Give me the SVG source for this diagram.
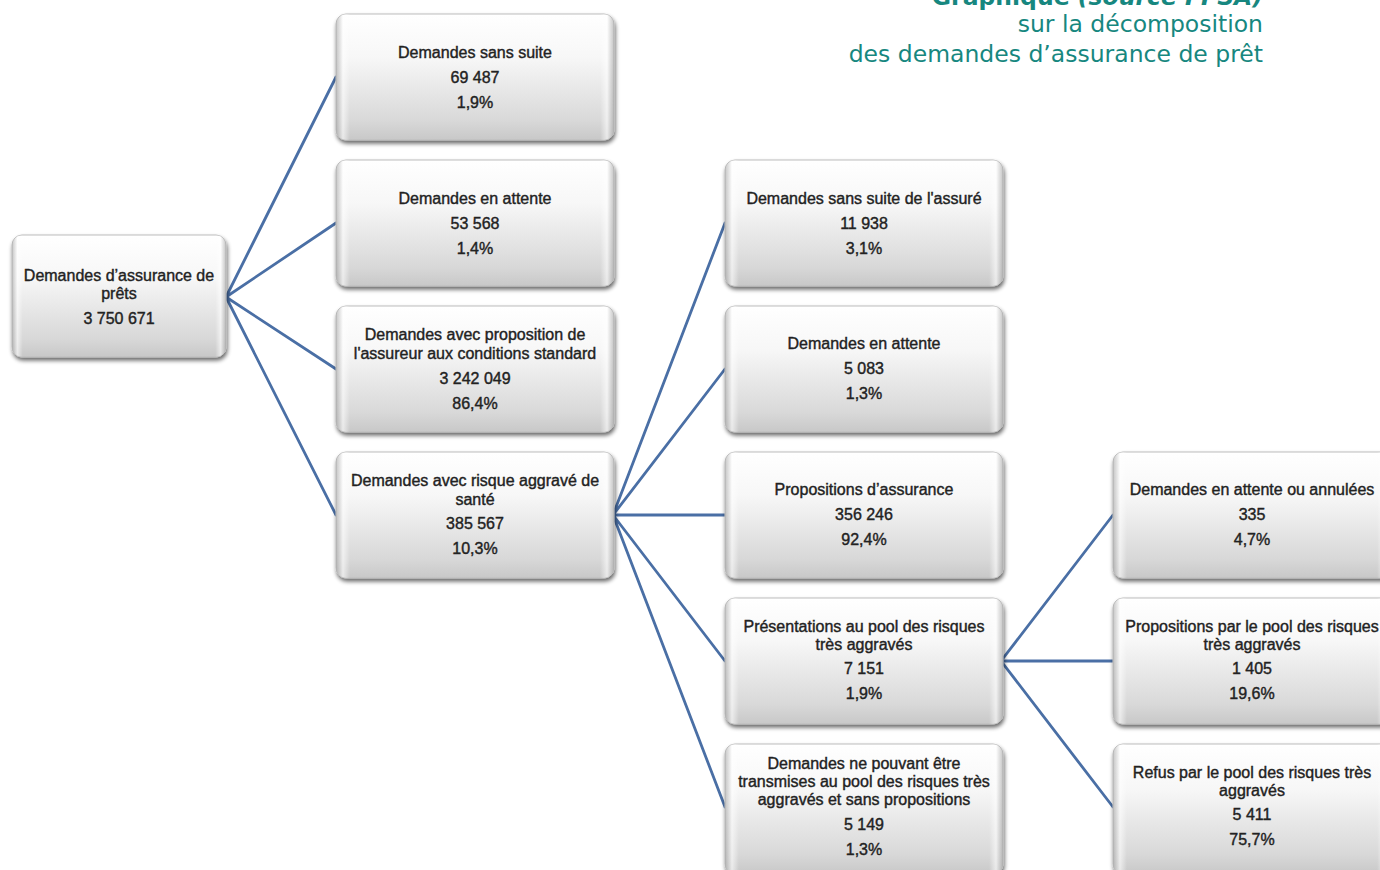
<svg xmlns="http://www.w3.org/2000/svg" width="1380" height="870" viewBox="0 0 1380 870">
<defs>
<style>
.t{font-family:"Liberation Sans",Arial,sans-serif;font-size:16px;fill:#222;stroke:#222;stroke-width:0.4;text-anchor:middle}
.ttl{font-family:"DejaVu Sans",Verdana,sans-serif;font-size:23.5px;fill:#17877f;text-anchor:end}
.box{fill:url(#gv);stroke:#bdbdbd;stroke-width:1;filter:url(#sh)}
.rim{fill:url(#gh);stroke:none}
.con{stroke:#4a6fa5;stroke-width:2.8;fill:none;stroke-linecap:round}
</style>
<linearGradient id="gv" x1="0" y1="0" x2="0" y2="1">
<stop offset="0" stop-color="#ffffff"/>
<stop offset="0.35" stop-color="#f7f7f7"/>
<stop offset="0.85" stop-color="#d8d8d8"/>
<stop offset="1" stop-color="#c8c8c8"/>
</linearGradient>
<linearGradient id="gh" x1="0" y1="0" x2="1" y2="0">
<stop offset="0" stop-color="#9a9a9a" stop-opacity="0.55"/>
<stop offset="0.025" stop-color="#ffffff" stop-opacity="0.6"/>
<stop offset="0.05" stop-color="#ffffff" stop-opacity="0"/>
<stop offset="0.95" stop-color="#ffffff" stop-opacity="0"/>
<stop offset="0.975" stop-color="#ffffff" stop-opacity="0.6"/>
<stop offset="1" stop-color="#9a9a9a" stop-opacity="0.55"/>
</linearGradient>
<filter id="sh" x="-5%" y="-10%" width="112%" height="125%">
<feGaussianBlur in="SourceAlpha" stdDeviation="2.2"/>
<feOffset dx="1" dy="3" result="o"/>
<feComponentTransfer><feFuncA type="linear" slope="0.6"/></feComponentTransfer>
<feMerge><feMergeNode/><feMergeNode in="SourceGraphic"/></feMerge>
</filter>
</defs>
<rect width="1380" height="870" fill="#ffffff"/>

<g id="title">
<text class="ttl" x="1263" y="5" font-weight="bold">Graphique <tspan font-style="italic">(source FFSA)</tspan></text>
<text class="ttl" x="1263" y="32">sur la décomposition</text>
<text class="ttl" x="1263" y="62">des demandes d’assurance de prêt</text>
</g>

<g id="connectors">
<path class="con" d="M226,297 L336,77 M226,297 L336,223 M226,297 L336,369 M226,297 L336,515"/>
<path class="con" d="M613,515 L725,223 M613,515 L725,369 M613,515 L725,515 M613,515 L725,661 M613,515 L725,807"/>
<path class="con" d="M1001,661 L1113,515 M1001,661 L1113,661 M1001,661 L1113,807"/>
</g>

<g id="n-root">
<rect class="box" x="12" y="235" width="214" height="122" rx="10"/>
<rect class="rim" x="12" y="235" width="214" height="122" rx="10"/>
<text class="t" x="119" y="281">Demandes d’assurance de</text>
<text class="t" x="119" y="299">prêts</text>
<text class="t" x="119" y="324">3 750 671</text>
</g>

<g id="n-sans-suite">
<rect class="box" x="336" y="14" width="278" height="126" rx="10"/>
<rect class="rim" x="336" y="14" width="278" height="126" rx="10"/>
<text class="t" x="475" y="58">Demandes sans suite</text>
<text class="t" x="475" y="83">69 487</text>
<text class="t" x="475" y="108">1,9%</text>
</g>

<g id="n-attente">
<rect class="box" x="336" y="160" width="278" height="126" rx="10"/>
<rect class="rim" x="336" y="160" width="278" height="126" rx="10"/>
<text class="t" x="475" y="204">Demandes en attente</text>
<text class="t" x="475" y="229">53 568</text>
<text class="t" x="475" y="254">1,4%</text>
</g>

<g id="n-standard">
<rect class="box" x="336" y="306" width="278" height="126" rx="10"/>
<rect class="rim" x="336" y="306" width="278" height="126" rx="10"/>
<text class="t" x="475" y="340">Demandes avec proposition  de</text>
<text class="t" x="475" y="359">l'assureur aux conditions standard</text>
<text class="t" x="475" y="384">3 242 049</text>
<text class="t" x="475" y="409">86,4%</text>
</g>

<g id="n-aggrave">
<rect class="box" x="336" y="452" width="278" height="126" rx="10"/>
<rect class="rim" x="336" y="452" width="278" height="126" rx="10"/>
<text class="t" x="475" y="486">Demandes avec risque aggravé de</text>
<text class="t" x="475" y="505">santé</text>
<text class="t" x="475" y="529">385 567</text>
<text class="t" x="475" y="554">10,3%</text>
</g>

<g id="n-sans-suite-assure">
<rect class="box" x="725" y="160" width="278" height="126" rx="10"/>
<rect class="rim" x="725" y="160" width="278" height="126" rx="10"/>
<text class="t" x="864" y="204">Demandes sans suite de l'assuré</text>
<text class="t" x="864" y="229">11 938</text>
<text class="t" x="864" y="254">3,1%</text>
</g>

<g id="n-attente-2">
<rect class="box" x="725" y="306" width="278" height="126" rx="10"/>
<rect class="rim" x="725" y="306" width="278" height="126" rx="10"/>
<text class="t" x="864" y="349">Demandes en attente</text>
<text class="t" x="864" y="374">5 083</text>
<text class="t" x="864" y="399">1,3%</text>
</g>

<g id="n-propositions">
<rect class="box" x="725" y="452" width="278" height="126" rx="10"/>
<rect class="rim" x="725" y="452" width="278" height="126" rx="10"/>
<text class="t" x="864" y="495">Propositions d’assurance</text>
<text class="t" x="864" y="520">356 246</text>
<text class="t" x="864" y="545">92,4%</text>
</g>

<g id="n-pool">
<rect class="box" x="725" y="598" width="278" height="126" rx="10"/>
<rect class="rim" x="725" y="598" width="278" height="126" rx="10"/>
<text class="t" x="864" y="632">Présentations au pool des risques</text>
<text class="t" x="864" y="650">très aggravés</text>
<text class="t" x="864" y="674">7 151</text>
<text class="t" x="864" y="699">1,9%</text>
</g>

<g id="n-non-transmises">
<rect class="box" x="725" y="744" width="278" height="130" rx="10"/>
<rect class="rim" x="725" y="744" width="278" height="130" rx="10"/>
<text class="t" x="864" y="769">Demandes ne pouvant être</text>
<text class="t" x="864" y="787">transmises au pool des risques très</text>
<text class="t" x="864" y="805">aggravés et sans propositions</text>
<text class="t" x="864" y="830">5 149</text>
<text class="t" x="864" y="855">1,3%</text>
</g>

<g id="n-attente-annulees">
<rect class="box" x="1113" y="452" width="278" height="126" rx="10"/>
<rect class="rim" x="1113" y="452" width="278" height="126" rx="10"/>
<text class="t" x="1252" y="495">Demandes en attente ou annulées</text>
<text class="t" x="1252" y="520">335</text>
<text class="t" x="1252" y="545">4,7%</text>
</g>

<g id="n-propositions-pool">
<rect class="box" x="1113" y="598" width="278" height="126" rx="10"/>
<rect class="rim" x="1113" y="598" width="278" height="126" rx="10"/>
<text class="t" x="1252" y="632">Propositions par le pool des risques</text>
<text class="t" x="1252" y="650">très aggravés</text>
<text class="t" x="1252" y="674">1 405</text>
<text class="t" x="1252" y="699">19,6%</text>
</g>

<g id="n-refus-pool">
<rect class="box" x="1113" y="744" width="278" height="130" rx="10"/>
<rect class="rim" x="1113" y="744" width="278" height="130" rx="10"/>
<text class="t" x="1252" y="778">Refus par le pool des risques très</text>
<text class="t" x="1252" y="796">aggravés</text>
<text class="t" x="1252" y="820">5 411</text>
<text class="t" x="1252" y="845">75,7%</text>
</g>
</svg>
